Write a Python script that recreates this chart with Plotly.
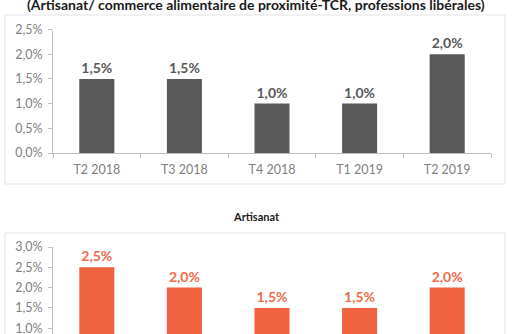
import plotly.graph_objects as go

W, H = 512, 334

categories = ["T2 2018", "T3 2018", "T4 2018", "T1 2019", "T2 2019"]
ensemble_values = [0.015, 0.015, 0.010, 0.010, 0.020]
artisanat_values = [0.025, 0.020, 0.015, 0.015, 0.020]

title_top = "(Artisanat/ commerce alimentaire de proximité-TCR, professions libérales)"
title_bottom = "Artisanat"

GRAY = "#595959"
ORANGE = "#F0623F"
ORANGE_TXT = "#EE6B4C"
AXIS = "#BFBFBF"
TICK = "#808080"
FONT = "Lato"


def px_x(p):
    return p / W


def px_y(p):
    return (H - p) / H


fig = go.Figure()

fig.add_trace(go.Bar(
    x=categories, y=ensemble_values, marker_color=GRAY, width=0.4,
    text=[f"{v*100:.1f}%".replace(".", ",") for v in ensemble_values],
    textposition="outside", cliponaxis=False,
    textfont=dict(family=FONT, size=14, color=GRAY, weight="bold"),
    xaxis="x", yaxis="y", hoverinfo="skip",
))

fig.add_trace(go.Bar(
    x=categories, y=artisanat_values, marker_color=ORANGE, width=0.4,
    text=[f"{v*100:.1f}%".replace(".", ",") for v in artisanat_values],
    textposition="outside", cliponaxis=True,
    textfont=dict(family=FONT, size=14, color=ORANGE_TXT, weight="bold"),
    xaxis="x2", yaxis="y2", hoverinfo="skip",
))

xdom = [px_x(53), px_x(491)]

fig.update_layout(
    template="none",
    width=W, height=H, autosize=False,
    margin=dict(l=0, r=0, t=0, b=0, pad=0, autoexpand=False),
    paper_bgcolor="white", plot_bgcolor="white",
    showlegend=False,
    separators=", ",
    font=dict(family=FONT, size=12, color=TICK),
    xaxis=dict(
        domain=xdom, anchor="y", showline=True, linecolor=AXIS, linewidth=1,
        ticks="outside", tickson="boundaries", ticklen=4, tickcolor=AXIS,
        tickfont=dict(family=FONT, size=12.5, color=TICK), showgrid=False,
        automargin=False, zeroline=False, ticklabelstandoff=5,
    ),
    yaxis=dict(
        domain=[px_y(153), px_y(29.5)], anchor="x", range=[0, 0.025],
        dtick=0.005, tickformat=".1%", showline=True, linecolor=AXIS,
        linewidth=1, ticks="outside", ticklen=4, tickcolor=AXIS,
        showgrid=False, zeroline=False, automargin=False,
        ticklabelstandoff=3,
        tickfont=dict(family=FONT, size=12.5, color=TICK),
    ),
    xaxis2=dict(
        domain=xdom, anchor="y2", showline=False, showticklabels=False,
        ticks="", showgrid=False, automargin=False, zeroline=False,
    ),
    yaxis2=dict(
        domain=[0, px_y(247)], anchor="x2", range=[0.00857, 0.030],
        dtick=0.005, tick0=0, tickformat=".1%", showline=True, linecolor=AXIS,
        linewidth=1, ticks="outside", ticklen=4, tickcolor=AXIS,
        showgrid=False, zeroline=False, automargin=False,
        ticklabelstandoff=3, ticklabeloverflow="allow",
        tickfont=dict(family=FONT, size=12.5, color=TICK),
    ),
    shapes=[
        dict(type="rect", xref="paper", yref="paper",
             x0=px_x(5), x1=px_x(505), y0=px_y(184), y1=px_y(15),
             line=dict(color="#E3E3E3", width=1), fillcolor="rgba(0,0,0,0)",
             layer="below"),
        dict(type="rect", xref="paper", yref="paper",
             x0=px_x(5), x1=px_x(505), y0=px_y(345), y1=px_y(233),
             line=dict(color="#E3E3E3", width=1), fillcolor="rgba(0,0,0,0)",
             layer="below"),
    ],
    annotations=[
        dict(text=title_top, xref="paper", yref="paper", x=0.5, y=1.0,
             xanchor="center", yanchor="middle", showarrow=False, yshift=-4,
             font=dict(family=FONT, size=14, color="#1A1A1A", weight="bold")),
        dict(text=title_bottom, xref="paper", yref="paper", x=0.5, y=px_y(216),
             xanchor="center", yanchor="middle", showarrow=False,
             font=dict(family=FONT, size=11, color="#1A1A1A", weight="bold")),
    ],
)

fig.write_html("out.html")
